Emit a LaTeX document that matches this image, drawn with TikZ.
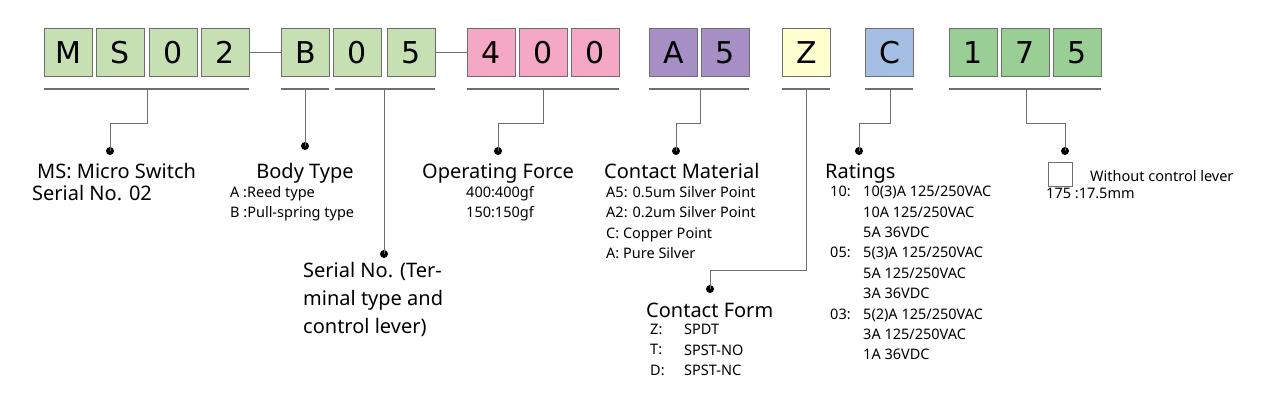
\documentclass[tikz,border=0pt]{standalone}
\usepackage{fontspec}
\setmainfont{Noto Sans}
\newfontfamily\boxfont{DejaVu Sans}
\definecolor{cg}{HTML}{C6E0B4}
\definecolor{cp}{HTML}{F4A8C6}
\definecolor{cv}{HTML}{A68FC5}
\definecolor{cy}{HTML}{FFFFD0}
\definecolor{cb}{HTML}{A4BFE3}
\definecolor{cd}{HTML}{99CF94}
\definecolor{ln}{HTML}{6E6E6E}
\begin{document}
\begin{tikzpicture}[x=1pt,y=-1pt,
  bx/.style={draw=ln,line width=1pt,minimum width=48pt,minimum height=48pt,inner sep=0pt,anchor=north west,font=\boxfont\fontsize{30}{30}\selectfont},
  ul/.style={draw=ln,line width=1.3pt},
  cn/.style={draw=ln,line width=1pt},
  dot/.style={circle,fill=black,inner sep=0pt,minimum size=8pt},
  ti/.style={font=\fontsize{20}{24}\selectfont,inner sep=0pt},
  sm/.style={font=\fontsize{14.5}{20.4}\selectfont,inner sep=0pt,align=left}]
\useasboundingbox (0,0) rectangle (1277,410);
% boxes
\node[bx,fill=cg] (b1) at (44,28) {M};
\node[bx,fill=cg] (b2) at (96,28) {S};
\node[bx,fill=cg] (b3) at (149,28) {0};
\node[bx,fill=cg] (b4) at (201,28) {2};
\node[bx,fill=cg] (b5) at (281,28) {B};
\node[bx,fill=cg] (b6) at (333,28) {0};
\node[bx,fill=cg] (b7) at (387,28) {5};
\node[bx,fill=cp] (b8) at (467,28) {4};
\node[bx,fill=cp] (b9) at (519,28) {0};
\node[bx,fill=cp] (b10) at (571,28) {0};
\node[bx,fill=cv] (b11) at (649,28) {A};
\node[bx,fill=cv] (b12) at (701,28) {5};
\node[bx,fill=cy] (b13) at (782,28) {Z};
\node[bx,fill=cb] (b14) at (865,28) {C};
\node[bx,fill=cd] (b15) at (949,28) {1};
\node[bx,fill=cd] (b16) at (1001,28) {7};
\node[bx,fill=cd] (b17) at (1053,28) {5};
\draw[cn] (b4.east) -- (b5.west);
\draw[cn] (b7.east) -- (b8.west);
% underlines
\draw[ul] (44,89) -- (249,89);
\draw[ul] (281,89) -- (329,89);
\draw[ul] (335,89) -- (435,89);
\draw[ul] (467,89) -- (619,89);
\draw[ul] (649,89) -- (749,89);
\draw[ul] (782,89) -- (830,89);
\draw[ul] (865,89) -- (913,89);
\draw[ul] (949,89) -- (1101,89);
\coordinate (u1) at (147,89);
\coordinate (u2) at (305,89);
\coordinate (u3) at (384,89);
\coordinate (u4) at (543,89);
\coordinate (u5) at (700,89);
\coordinate (u6) at (806,89);
\coordinate (u7) at (890,89);
\coordinate (u8) at (1026,89);
% dots
\node[dot] (d1) at (110,151) {};
\node[dot] (d2) at (305,146) {};
\node[dot] (d3) at (384,254) {};
\node[dot] (d4) at (498,151) {};
\node[dot] (d5) at (676,151) {};
\node[dot] (d6) at (710,289) {};
\node[dot] (d7) at (859,151) {};
\node[dot] (d8) at (1065,151) {};
\draw[cn] (u1) |- (110,123) -- (d1.center);
\draw[cn] (u2) -- (d2.center);
\draw[cn] (u3) -- (d3.center);
\draw[cn] (u4) |- (498,123) -- (d4.center);
\draw[cn] (u5) |- (676,123) -- (d5.center);
\draw[cn] (u6) |- (710,270) -- (d6.center);
\draw[cn] (u7) |- (859,123) -- (d7.center);
\draw[cn] (u8) |- (1065,123) -- (d8.center);
% texts
\node[ti,anchor=base west] (t1) at (37,178) {MS: Micro Switch};
\node[ti,anchor=base west] (t1b) at (32,200) {Serial No. 02};
\node[ti,anchor=base] (t2) at (305,178) {Body Type};
\node[sm,anchor=north west] (s2) at (230,186) {A :Reed type\\B :Pull-spring type};
\node[ti,anchor=north west,align=left,font=\fontsize{20}{28}\selectfont] (t3) at (303,262) {Serial No. (Ter-\\minal type and\\control lever)};
\node[ti,anchor=base] (t4) at (498,178) {Operating Force};
\node[sm,anchor=north,align=center] (s4) at (500,186) {400:400gf\\150:150gf};
\node[ti,anchor=base west] (t5) at (604,178) {Contact Material};
\node[sm,anchor=north west] (s5) at (606,186) {A5: 0.5um Silver Point\\A2: 0.2um Silver Point\\C: Copper Point\\A: Pure Silver};
\node[ti,anchor=base west] (t6) at (646,317) {Contact Form};
\node[sm,anchor=north west] (s6a) at (650,324) {Z:\\T:\\D:};
\node[sm,anchor=north west] (s6b) at (684,324) {SPDT\\SPST-NO\\SPST-NC};
\node[ti,anchor=base west] (t7) at (825,178) {Ratings};
\node[sm,anchor=north west] (s7a) at (830,186) {10:\\\\\\05:\\\\\\03:};
\node[sm,anchor=north west] (s7b) at (863,186) {10(3)A 125/250VAC\\10A 125/250VAC\\5A 36VDC\\5(3)A 125/250VAC\\5A 125/250VAC\\3A 36VDC\\5(2)A 125/250VAC\\3A 125/250VAC\\1A 36VDC};
\node[draw=ln,line width=1pt,minimum size=24pt,inner sep=0pt] (sq) at (1060,174) {};
\node[sm,anchor=west] (t8) at (1090,176) {Without control lever};
\node[sm,anchor=north west] (s8) at (1046,188) {175 :17.5mm};
\end{tikzpicture}
\end{document}
